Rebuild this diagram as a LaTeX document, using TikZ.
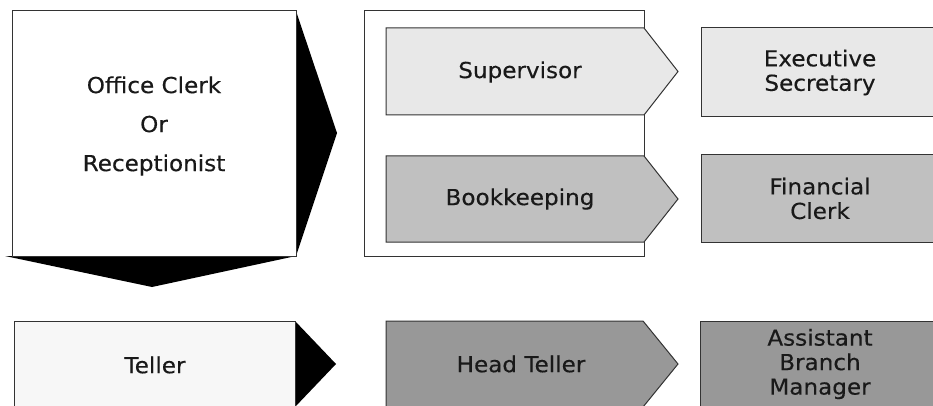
\documentclass[tikz,border=0pt]{standalone}
\usepackage{fontspec}
\setmainfont{DejaVu Sans}[FakeStretch=1.05,FakeBold=0.3]
\definecolor{supfill}{HTML}{E8E8E8}
\definecolor{bookfill}{HTML}{C0C0C0}
\definecolor{headfill}{HTML}{989898}
\definecolor{tellfill}{HTML}{F7F7F7}
\definecolor{edge}{HTML}{333333}
\begin{document}
\begin{tikzpicture}[x=1pt,y=-1pt,line width=1pt,
  box/.style={draw=edge},
  lbl/.style={font=\fontsize{22}{24.5}\selectfont,align=center,text=black!90,inner sep=0pt}]
\useasboundingbox (0,0) rectangle (933,406);
\clip (0,0) rectangle (933,406);

% Office clerk / receptionist with black arrows
\fill[black] (296,11) -- (337,133) -- (296,256) -- cycle;
\fill[black] (5,256) -- (152,287) -- (296,256) -- cycle;
\draw[box,fill=white] (12,11) rectangle (296,256);
\node[lbl,font=\fontsize{22}{39}\selectfont] (clerk) at (154,126) {Office Clerk\\Or\\Receptionist};

% container group
\draw[box,fill=white] (364,11) rectangle (644,256);

% Supervisor chevron
\draw[box,fill=supfill] (386,28) -- (644,28) -- (678,71.5) -- (644,115) -- (386,115) -- cycle;
\node[lbl] (sup) at (520,72) {Supervisor};
% Bookkeeping chevron
\draw[box,fill=bookfill] (386,156) -- (644,156) -- (678,199) -- (644,242) -- (386,242) -- cycle;
\node[lbl] (book) at (520,199) {Bookkeeping};

% right boxes
\draw[box,fill=supfill] (701,28) rectangle (945,117);
\node[lbl] (exec) at (820,72.5) {Executive\\Secretary};
\draw[box,fill=bookfill] (701,155) rectangle (945,242);
\node[lbl] (fin) at (820,198.5) {Financial\\Clerk};

% Teller row
\fill[black] (295,321) -- (336,364) -- (295,407) -- cycle;
\draw[box,fill=tellfill] (14,321) rectangle (295,407);
\node[lbl] (teller) at (155,365) {Teller};

\draw[box,fill=headfill] (386,321) -- (643,321) -- (678,364) -- (643,407) -- (386,407) -- cycle;
\node[lbl] (head) at (521,364) {Head Teller};

\draw[box,fill=headfill] (700,321) rectangle (945,410);
\node[lbl] (abm) at (820,364) {Assistant\\Branch\\Manager};
\end{tikzpicture}
\end{document}
